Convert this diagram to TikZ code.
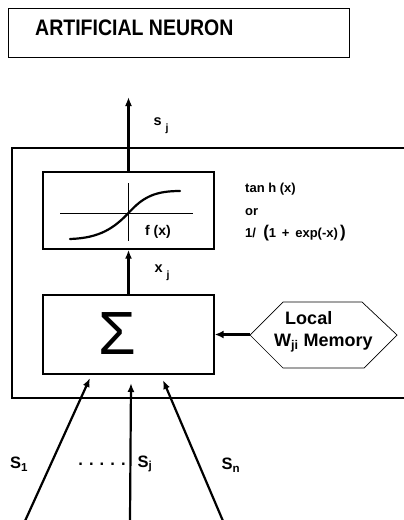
\documentclass[tikz,border=0pt]{standalone}
\usepackage{fontspec}
\setmainfont{Liberation Sans}
\usetikzlibrary{arrows.meta}
\begin{document}
\begin{tikzpicture}[x=1pt,y=-1pt,
  box/.style={draw, line width=1.4pt, minimum width=171pt, inner sep=0pt},
  arr/.style={line width=2.2pt, -{Latex[length=9pt,width=7pt]}},
  lbl/.style={font=\bfseries\fontsize{13}{15}\selectfont, inner sep=0pt},
  sig/.style={font=\bfseries\fontsize{16.5}{18}\selectfont, inner sep=0pt}]
\useasboundingbox (0,0) rectangle (404,520);
% title
\node[draw, line width=1.1pt, minimum width=341pt, minimum height=49pt, anchor=north west, inner sep=0pt] (title) at (8,8) {};
\node[anchor=base west, inner sep=0pt, font=\bfseries\fontsize{19.5}{22}\selectfont] (titletext) at (35,35) {\scalebox{1}[1.15]{ARTIFICIAL NEURON}};
% outer frame
\draw[line width=1.8pt] (405,148) -- (12,148) -- (12,398) -- (405,398);
% function box
\node[box, minimum height=77pt] (fbox) at (128.5,210.5) {};
\draw[line width=0.8pt] (60,213) -- (193,213);
\draw[line width=0.8pt] (128.5,183) -- (128.5,241);
\draw[line width=2.2pt, line cap=round] (70,239) .. controls (100,238) and (114,228) .. (128.5,213) .. controls (143,197) and (155,191) .. (180,191);
\node[lbl, font=\bfseries\fontsize{14}{16}\selectfont] (fx) at (158,232) {f (x)};
% formulas
\node[lbl, anchor=west] (tanh) at (245,189) {tan h (x)};
\node[lbl, anchor=west] (or) at (245,212) {or};
\node[lbl, anchor=west] (logi) at (245,233) {1/\ \ {\fontsize{17}{17}\selectfont(}1 \,+\, exp(-x)\,{\fontsize{17}{17}\selectfont)}};
% sum box
\node[box, minimum height=79pt] (sbox) at (128.5,334.5) {};
\node[inner sep=0pt] (sigma) at (117,334) {\fontsize{61}{61}\selectfont Σ};
% output arrow and internal arrow
\coordinate (sout) at (128.5,97);
\draw[arr] (fbox.north) -- (sout);
\draw[arr] (sbox.north) -- (fbox.south);
\node[inner sep=0pt, font=\bfseries\fontsize{14.5}{16}\selectfont] (sj) at (161,126) {s\hspace{4pt}\raisebox{-6pt}{\fontsize{10.5}{12}\selectfont j}};
\node[inner sep=0pt, font=\bfseries\fontsize{14.5}{16}\selectfont] (xj) at (162,273) {x\hspace{4pt}\raisebox{-6pt}{\fontsize{10.5}{12}\selectfont j}};
% local memory hexagon
\draw[line width=0.7pt] (250,335) -- (283,302) -- (362,302) -- (397,335) -- (364,368) -- (283,368) -- cycle;
\node[inner sep=0pt, align=left, font=\bfseries\fontsize{18}{22}\selectfont] (mem) at (323.5,332) {\hspace{11pt}Local\\W\textsubscript{ji} Memory};
\coordinate (hexl) at (250,334.5);
\draw[line width=3pt, -{Latex[length=9pt,width=8pt]}] (hexl) -- (sbox.east);
% inputs
\coordinate (i1) at (25,521);
\coordinate (i2) at (130,521);
\coordinate (i3) at (223,521);
\coordinate (t1) at (90,378);
\coordinate (t2) at (131,383);
\coordinate (t3) at (163,380);
\draw[arr] (i1) -- (t1);
\draw[arr] (i2) -- (t2);
\draw[arr] (i3) -- (t3);
\node[sig] (s1) at (19,464) {S\textsubscript{1}};
\node[sig] (dots) at (102,464) {. . . . .};
\node[sig] (sjin) at (145,464) {S\textsubscript{j}};
\node[sig] (sn) at (231,465) {S\textsubscript{n}};
\end{tikzpicture}
\end{document}
